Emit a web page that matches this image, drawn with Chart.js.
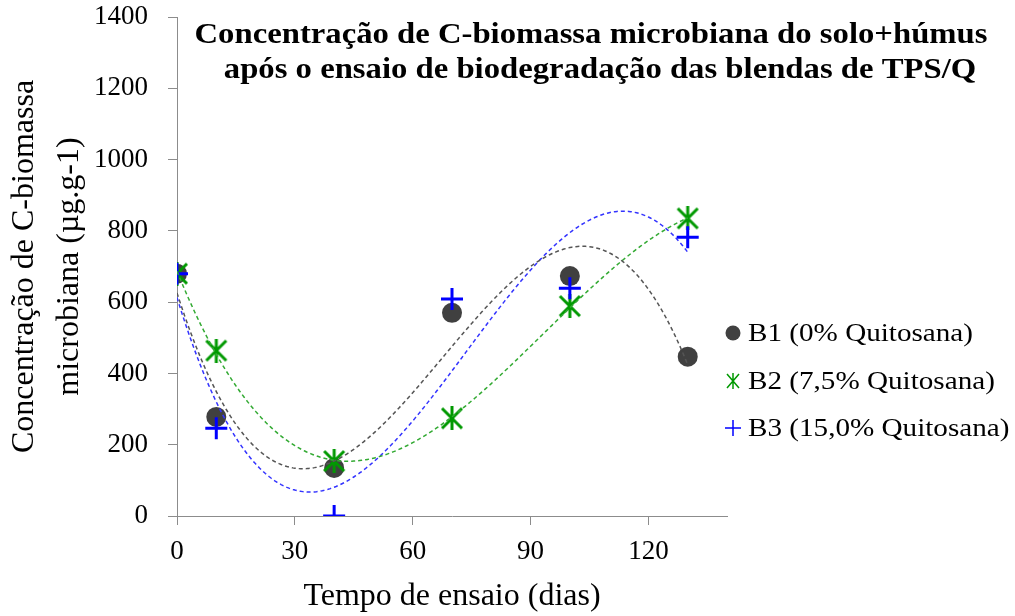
<!DOCTYPE html>
<html><head><meta charset="utf-8">
<script src="https://cdn.jsdelivr.net/npm/chart.js@4.4.0/dist/chart.umd.min.js"></script>
<style>html,body{margin:0;padding:0;background:#fff}canvas{display:block}</style>
</head><body>
<canvas id="c" width="1015" height="616"></canvas>
<script>
// ---- data ----
const days = [0, 10, 40, 70, 100, 130];
const b1 = [680, 278, 135, 570, 673, 447];
const b2 = [680, 464, 154, 274, 589, 835];
const b3 = [680, 246, 0, 609, 639, 782];
const seriesLabels = ['B1 (0% Quitosana)', 'B2 (7,5% Quitosana)', 'B3 (15,0% Quitosana)'];
const xTicks = [0, 30, 60, 90, 120];
const yTicks = [0, 200, 400, 600, 800, 1000, 1200, 1400];
const titleLines = ['Concentração de C-biomassa microbiana do solo+húmus', 'após o ensaio de biodegradação das blendas de TPS/Q'];
const yTitle = ['Concentração de C-biomassa', 'microbiana (µg.g-1)'];
const xTitle = 'Tempo de ensaio (dias)';
const trendOrder = 3;

// ---- polynomial least squares trendline (like the spreadsheet trendline) ----
function polyfit(xs, ys, deg) {
  const n = deg + 1;
  const A = [];
  for (let i = 0; i < n; i++) {
    A.push(new Array(n + 1).fill(0));
    for (let j = 0; j < n; j++) A[i][j] = xs.reduce((s, x) => s + Math.pow(x, i + j), 0);
    A[i][n] = xs.reduce((s, x, k) => s + ys[k] * Math.pow(x, i), 0);
  }
  for (let c = 0; c < n; c++) {
    let p = c;
    for (let r = c + 1; r < n; r++) if (Math.abs(A[r][c]) > Math.abs(A[p][c])) p = r;
    [A[c], A[p]] = [A[p], A[c]];
    for (let r = 0; r < n; r++) {
      if (r === c) continue;
      const f = A[r][c] / A[c][c];
      for (let k = c; k <= n; k++) A[r][k] -= f * A[c][k];
    }
  }
  const coef = A.map((row, i) => row[n] / row[i]);
  return x => coef.reduce((s, c, i) => s + c * Math.pow(x, i), 0);
}
function trend(ys) {
  const f = polyfit(days, ys, trendOrder);
  const pts = [];
  const x0 = days[0], x1 = days[days.length - 1];
  for (let k = 0; k <= 260; k++) { const x = x0 + (x1 - x0) * k / 260; pts.push({x, y: f(x)}); }
  return pts;
}
const toPts = ys => days.map((d, i) => ({x: d, y: ys[i]}));

// ---- marker images ----
function starCanvas(size, lw, color) {
  const c = document.createElement('canvas');
  c.width = size; c.height = size;
  const g = c.getContext('2d');
  g.strokeStyle = color; g.lineWidth = lw; g.lineCap = 'butt';
  const m = lw / 2 + 0.5, s = size;
  g.beginPath();
  g.moveTo(m, m); g.lineTo(s - m, s - m);
  g.moveTo(s - m, m); g.lineTo(m, s - m);
  g.moveTo(s / 2, 0); g.lineTo(s / 2, s);
  g.stroke();
  return c;
}
const colB1 = '#404040', colB2 = '#009900', colB3 = '#0000ff';
const starBig = starCanvas(24, 3, colB2);

// draw text horizontally scaled to a target width
function fitText(ctx, text, x, y, width, align) {
  const w = ctx.measureText(text).width;
  const sx = width / w;
  ctx.save();
  ctx.translate(x, y);
  ctx.scale(sx, 1);
  ctx.textAlign = align;
  ctx.fillText(text, 0, 0);
  ctx.restore();
}

// ---- plugins: title and legend drawn over the chart ----
const overlay = {
  id: 'overlay',
  afterDraw(chart) {
    const ctx = chart.ctx;
    ctx.save();
    ctx.fillStyle = '#000';
    ctx.textBaseline = 'alphabetic';
    ctx.font = 'bold 30px "Liberation Serif"';
    const k = 793 / ctx.measureText(titleLines[0]).width;
    fitText(ctx, titleLines[0], 591, 43, ctx.measureText(titleLines[0]).width * k, 'center');
    fitText(ctx, titleLines[1], 600, 78, ctx.measureText(titleLines[1]).width * k, 'center');
    // legend
    const rows = [333, 381, 428];
    ctx.font = '26px "Liberation Serif"';
    ctx.textBaseline = 'middle';
    const kl = 225 / ctx.measureText(seriesLabels[0]).width;
    rows.forEach((y, i) => {
      const mx = 733;
      ctx.save();
      if (i === 0) {
        ctx.fillStyle = colB1; ctx.beginPath(); ctx.arc(mx, y, 7.5, 0, Math.PI * 2); ctx.fill();
      } else if (i === 1) {
        ctx.strokeStyle = colB2; ctx.lineWidth = 1.5; ctx.beginPath();
        ctx.moveTo(mx - 6, y - 7); ctx.lineTo(mx + 6, y + 7);
        ctx.moveTo(mx + 6, y - 7); ctx.lineTo(mx - 6, y + 7);
        ctx.moveTo(mx, y - 8); ctx.lineTo(mx, y + 8); ctx.stroke();
      } else {
        ctx.strokeStyle = colB3; ctx.lineWidth = 1.5; ctx.beginPath();
        ctx.moveTo(mx - 8, y); ctx.lineTo(mx + 8, y);
        ctx.moveTo(mx, y - 8); ctx.lineTo(mx, y + 8); ctx.stroke();
      }
      ctx.restore();
      ctx.fillStyle = '#000';
      fitText(ctx, seriesLabels[i], 748, y + 1, ctx.measureText(seriesLabels[i]).width * kl, 'left');
    });
    ctx.restore();
  }
};

const axisGrey = '#8c8c8c';
new Chart(document.getElementById('c'), {
  type: 'scatter',
  data: {
    datasets: [
      {label: 't1', type: 'line', data: trend(b1), borderColor: '#555555', borderWidth: 1.5, borderDash: [4, 3], pointRadius: 0, fill: false, tension: 0, order: 0},
      {label: 't2', type: 'line', data: trend(b2), borderColor: '#33aa33', borderWidth: 1.5, borderDash: [4, 3], pointRadius: 0, fill: false, tension: 0, order: 0},
      {label: 't3', type: 'line', data: trend(b3), borderColor: '#3333ff', borderWidth: 1.5, borderDash: [4, 3], pointRadius: 0, fill: false, tension: 0, order: 0},
      {label: seriesLabels[2], data: toPts(b3), pointStyle: 'cross', radius: 11, borderColor: colB3, borderWidth: 3, backgroundColor: colB3, order: 1},
      {label: seriesLabels[1], data: toPts(b2), pointStyle: starBig, radius: 12, borderColor: colB2, backgroundColor: colB2, order: 2},
      {label: seriesLabels[0], data: toPts(b1), pointStyle: 'circle', radius: 10, borderWidth: 0, backgroundColor: colB1, borderColor: colB1, order: 3}
    ]
  },
  options: {
    responsive: false,
    devicePixelRatio: 1,
    animation: false,
    layout: {padding: {top: 17, right: 288, bottom: 0, left: 0}},
    plugins: {legend: {display: false}, title: {display: false}, tooltip: {enabled: false}},
    scales: {
      x: {
        type: 'linear', min: 0, max: 140,
        afterBuildTicks: s => { s.ticks = xTicks.map(v => ({value: v})); },
        afterFit: s => { s.height = 100; s.paddingLeft = 0; s.paddingRight = 0; },
        grid: {display: true, drawOnChartArea: false, drawTicks: true, tickLength: 9, color: axisGrey},
        border: {color: axisGrey, width: 1},
        ticks: {font: {family: 'Liberation Serif', size: 27}, color: '#000', padding: 11, maxRotation: 0, callback: v => String(v)},
        title: {display: true, text: xTitle, font: {family: 'Liberation Serif', size: 32}, color: '#000', padding: {top: 0, bottom: 0}}
      },
      y: {
        type: 'linear', min: 0, max: 1400,
        afterBuildTicks: s => { s.ticks = yTicks.map(v => ({value: v})); },
        afterFit: s => { s.width = 177; s.paddingTop = 0; s.paddingBottom = 0; },
        grid: {display: true, drawOnChartArea: false, drawTicks: true, tickLength: 9, color: axisGrey},
        border: {color: axisGrey, width: 1},
        ticks: {font: {family: 'Liberation Serif', size: 27}, color: '#000', padding: 20, callback: v => String(v)},
        title: {display: true, text: yTitle, font: {family: 'Liberation Serif', size: 32, lineHeight: 1.4}, color: '#000', padding: {top: 2, bottom: 0}}
      }
    }
  },
  plugins: [overlay]
});
</script>
</body></html>
